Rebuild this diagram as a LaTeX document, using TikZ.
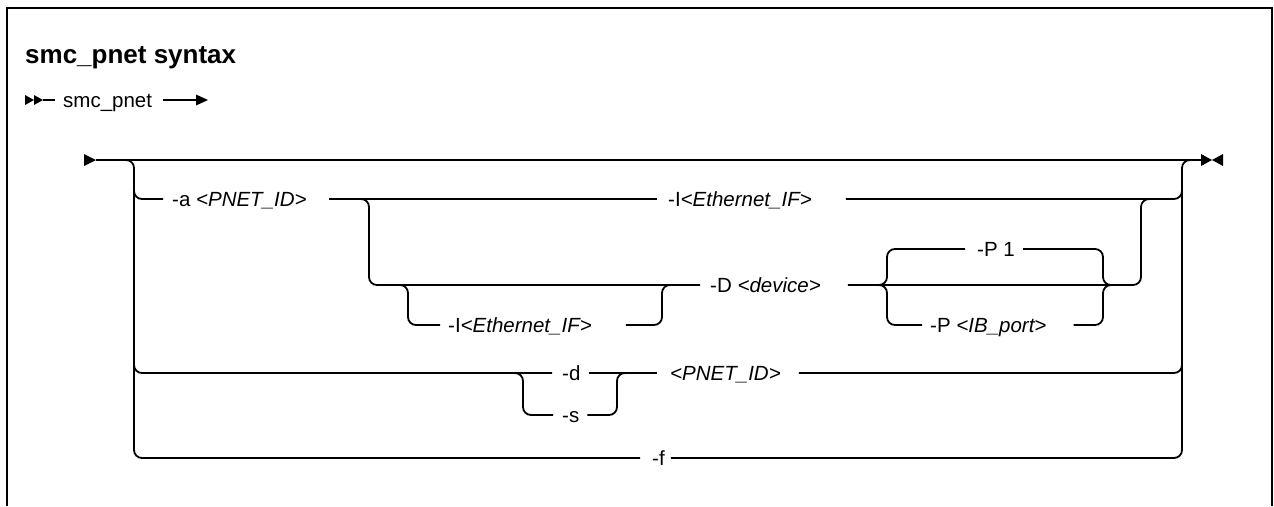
\documentclass[tikz,border=0pt]{standalone}
\usepackage{fontspec}
\setmainfont{Liberation Sans}
\begin{document}
\begin{tikzpicture}[x=1pt,y=-1pt,
  ln/.style={line width=1.8pt},
  rr/.style={line width=1.8pt, rounded corners=8pt},
  frame/.style={line width=2.5pt},
  lbl/.style={inner sep=0pt, text height=14pt, text depth=0pt, anchor=west,
              font=\fontsize{20.5}{24}\selectfont},
  ttl/.style={inner sep=0pt, anchor=base west, font=\fontsize{26}{30}\selectfont\bfseries}]
\useasboundingbox (0,0) rectangle (1274,506);
% frame
\draw[frame] (7,506) -- (7,8) -- (1272,8) -- (1272,506);
% title and command line
\node[ttl] (title) at (25,63) {smc\_pnet syntax};
\node[lbl] (cmd) at (63,100) {smc\_pnet};
\fill (25,95) -- (34,100) -- (25,105) -- cycle;
\fill (34,95) -- (43,100) -- (34,105) -- cycle;
\draw[ln] (43,100) -- ([xshift=-8pt]cmd.west);
\coordinate (cmdend) at (197,100);
\draw[ln] ([xshift=11pt]cmd.east) -- (cmdend);
\fill (196,94.5) -- (208,100) -- (196,105.5) -- cycle;
% labels
\node[lbl] (a)   at (172,199) {-a \textit{<PNET\_ID>}};
\node[lbl] (i1)  at (668,199) {-I\textit{<Ethernet\_IF>}};
\node[lbl] (dv)  at (710,285) {-D \textit{<device>}};
\node[lbl] (i2)  at (448,325) {-I\textit{<Ethernet\_IF>}};
\node[lbl] (p1)  at (977,249) {-P 1};
\node[lbl] (pib) at (930,325) {-P \textit{<IB\_port>}};
\node[lbl] (d)   at (562,373) {-d};
\node[lbl] (s)   at (562,415) {-s};
\node[lbl] (pn)  at (670,373) {\textit{<PNET\_ID>}};
\node[lbl] (f)   at (652,458) {-f};
% junction coordinates
\coordinate (mainS) at (96,160);
\coordinate (mainE) at (1201,160);
% main line with start / end marks
\fill (84,154) -- (96,160) -- (84,166) -- cycle;
\draw[ln] (mainS) -- (mainE);
\fill (1201,154) -- (1212,160) -- (1201,166) -- cycle;
\fill (1223,154) -- (1212,160) -- (1223,166) -- cycle;
% outer rails
\draw[rr] (110,160) -- (134,160) -- (134,458) -- ([xshift=-12pt]f.west);
\draw[rr] ([xshift=6pt]f.east) -- (1182,458) -- (1182,160) -- (1195,160);
% row -a
\draw[rr] (134,185) -- (134,199) -- ([xshift=-9pt]a.west);
\draw[ln] ([xshift=22pt]a.east) -- ([xshift=-11pt]i1.west);
\draw[rr] ([xshift=34pt]i1.east) -- (1182,199) -- (1182,185);
\draw[rr] (355,199) -- (369,199) -- (369,285) -- ([xshift=-10pt]dv.west);
\draw[rr] (395,285) -- (408,285) -- (408,325) -- ([xshift=-8pt]i2.west);
\draw[rr] ([xshift=34pt]i2.east) -- (662,325) -- (662,285) -- (676,285);
\draw[rr] ([xshift=27pt]dv.east) -- (1141,285) -- (1141,199) -- (1155,199);
% -P group
\draw[rr] (875,285) -- (887,285) -- (887,249) -- ([xshift=-12pt]p1.west);
\draw[rr] (875,285) -- (887,285) -- (887,325) -- ([xshift=-8pt]pib.west);
\draw[rr] ([xshift=8pt]p1.east) -- (1103,249) -- (1103,285) -- (1115,285);
\draw[rr] ([xshift=27pt]pib.east) -- (1103,325) -- (1103,285) -- (1115,285);
% row -d / -s
\draw[rr] (134,360) -- (134,373) -- ([xshift=-10pt]d.west);
\draw[rr] (510,373) -- (523,373) -- (523,415) -- ([xshift=-9pt]s.west);
\draw[ln] ([xshift=8pt]d.east) -- ([xshift=-13pt]pn.west);
\draw[rr] ([xshift=8pt]s.east) -- (617,415) -- (617,373) -- (630,373);
\draw[rr] ([xshift=18pt]pn.east) -- (1182,373) -- (1182,360);
\end{tikzpicture}
\end{document}
